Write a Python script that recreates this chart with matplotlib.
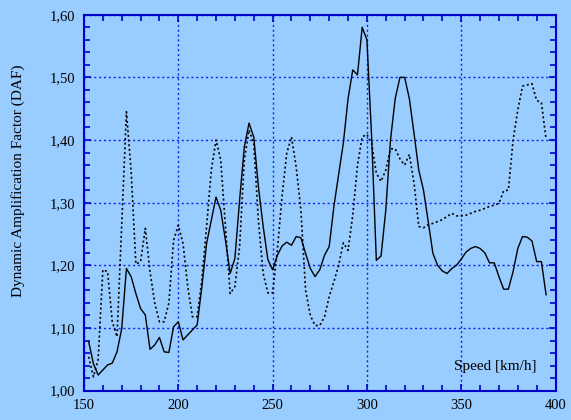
import matplotlib
matplotlib.use('Agg')
import matplotlib.pyplot as plt
from matplotlib.ticker import MultipleLocator, FuncFormatter

plt.rcParams.update({
    'font.family': 'serif',
    'font.serif': ['Liberation Serif', 'DejaVu Serif'],
    'font.size': 10.5,
})

# Colors
C_BG = '#99CCFF'
C_AXIS = '#0000CC'
C_GRID = '#1122EE'

# Speed [km/h], sampled every 2.5 km/h
speed = [152.5 + 2.5 * i for i in range(98)]

daf_solid = [
    1.078, 1.043, 1.025, 1.033, 1.041, 1.044, 1.062, 1.099, 1.195, 1.182,
    1.155, 1.131, 1.121, 1.066, 1.073, 1.085, 1.062, 1.061, 1.102, 1.110,
    1.081, 1.089, 1.097, 1.105, 1.166, 1.235, 1.272, 1.309, 1.288, 1.240,
    1.187, 1.211, 1.304, 1.389, 1.427, 1.405, 1.325, 1.262, 1.209, 1.193,
    1.216, 1.231, 1.237, 1.232, 1.246, 1.244, 1.219, 1.195, 1.182, 1.193,
    1.216, 1.230, 1.294, 1.345, 1.395, 1.466, 1.512, 1.504, 1.580, 1.560,
    1.405, 1.208, 1.215, 1.288, 1.400, 1.466, 1.500, 1.500, 1.466, 1.410,
    1.352, 1.320, 1.270, 1.219, 1.200, 1.191, 1.187, 1.195, 1.200, 1.210,
    1.221, 1.227, 1.230, 1.227, 1.220, 1.204, 1.204, 1.182, 1.162, 1.162,
    1.190, 1.227, 1.246, 1.245, 1.239, 1.206, 1.206, 1.153,
]

daf_dotted = [
    1.054, 1.022, 1.050, 1.193, 1.190, 1.110, 1.086, 1.265, 1.445, 1.350,
    1.202, 1.206, 1.259, 1.190, 1.140, 1.110, 1.110, 1.140, 1.240, 1.264,
    1.235, 1.166, 1.118, 1.118, 1.177, 1.262, 1.352, 1.400, 1.368, 1.262,
    1.155, 1.166, 1.230, 1.368, 1.416, 1.395, 1.270, 1.187, 1.156, 1.156,
    1.224, 1.310, 1.379, 1.405, 1.357, 1.288, 1.160, 1.120, 1.104, 1.104,
    1.118, 1.150, 1.174, 1.200, 1.236, 1.224, 1.280, 1.360, 1.405, 1.409,
    1.395, 1.347, 1.334, 1.352, 1.386, 1.386, 1.370, 1.360, 1.377, 1.331,
    1.262, 1.260, 1.265, 1.267, 1.270, 1.273, 1.278, 1.283, 1.279, 1.279,
    1.280, 1.283, 1.286, 1.288, 1.291, 1.294, 1.296, 1.299, 1.319, 1.320,
    1.400, 1.448, 1.486, 1.488, 1.490, 1.463, 1.460, 1.401,
]

fig = plt.figure(figsize=(5.71, 4.20), dpi=100, facecolor=C_BG)
ax = fig.add_axes([0.1471, 0.0698, 0.8258, 0.8952])
ax.set_facecolor(C_BG)

ax.plot(speed, daf_solid, '-', color='black', linewidth=1.0, zorder=3)
ax.plot(speed, daf_dotted, color='black', linewidth=1.2,
        linestyle=(0, (1.2, 1.6)), zorder=3)

ax.set_xlim(150, 400)
ax.set_ylim(1.0, 1.6)

ax.xaxis.set_major_locator(MultipleLocator(50))
ax.xaxis.set_minor_locator(MultipleLocator(10))
ax.yaxis.set_major_locator(MultipleLocator(0.1))
ax.yaxis.set_minor_locator(MultipleLocator(0.02))
ax.yaxis.set_major_formatter(FuncFormatter(lambda v, p: f'{v:.2f}'.replace('.', ',')))

ax.grid(True, which='major', color=C_GRID, linestyle=(0, (1.5, 2.0)),
        linewidth=1.0, zorder=1)

for s in ax.spines.values():
    s.set_color(C_AXIS)
    s.set_linewidth(1.5)

ax.tick_params(which='both', direction='in', top=True, right=True,
               color=C_AXIS, width=1.2, labelcolor='black')
ax.tick_params(which='major', length=5, pad=6)
ax.tick_params(which='minor', length=4)

fig.text(18 / 571, 0.57, 'Dynamic Amplification Factor (DAF)', rotation=90,
         ha='center', va='center', fontsize=11)
ax.text(390, 1.038, 'Speed [km/h]', ha='right', va='center', fontsize=11)

fig.savefig('out.png', dpi=100, facecolor=C_BG)
